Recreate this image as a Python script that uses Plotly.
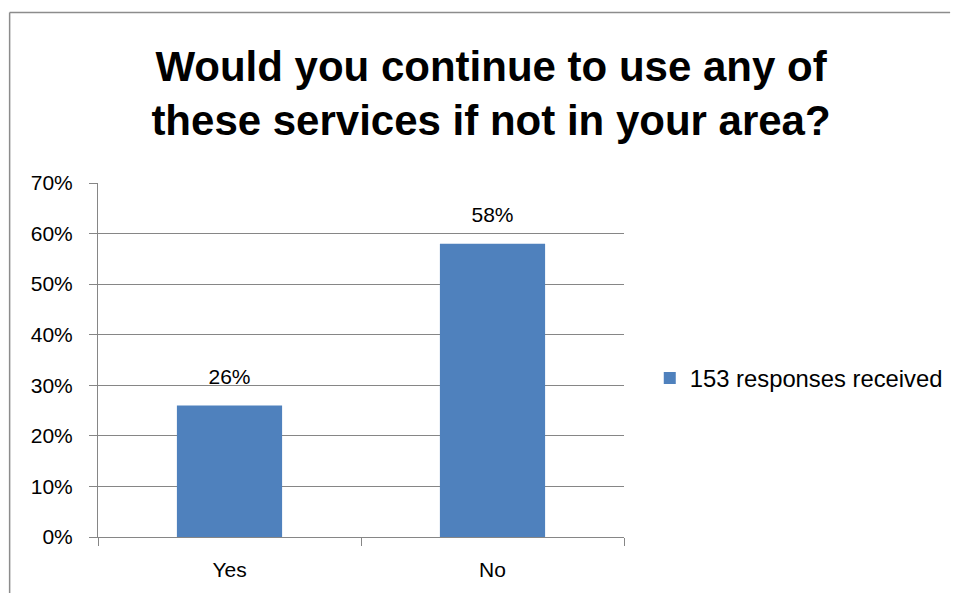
import plotly.graph_objects as go

categories = ["Yes", "No"]
values = [0.26, 0.58]
labels = ["26%", "58%"]
series_name = "153 responses received"
title_text = "Would you continue to use any of<br>these services if not in your area?"

FONT = "Liberation Sans, Arial, sans-serif"
GRID = "#868686"
BORDER = "#8c8c8c"

fig = go.Figure()
fig.add_trace(go.Bar(
    x=categories, y=values, name=series_name,
    marker=dict(color="#4F81BD", line=dict(width=0)),
    width=0.4,
    showlegend=True,
))
# data labels placed above the bar tops
fig.add_trace(go.Scatter(
    x=categories, y=values, mode="markers+text",
    text=labels, textposition="top center",
    marker=dict(size=24, color="rgba(0,0,0,0)"),
    textfont=dict(size=21, color="#000000", family=FONT),
    showlegend=False, hoverinfo="skip", cliponaxis=False,
))

fig.update_layout(
    width=951, height=585,
    margin=dict(l=90, r=334, t=175, b=56),
    paper_bgcolor="white", plot_bgcolor="white",
    font=dict(family=FONT, color="#000000"),
    title=dict(text=title_text, x=0.5079, xanchor="center", y=0.8755, yanchor="top",
               font=dict(size=42, family=FONT, color="#000000", weight="bold")),
    showlegend=True,
    legend=dict(x=1.047, y=0.449, xanchor="left", yanchor="middle",
                font=dict(size=23.8, family=FONT, color="#000000"),
                bgcolor="rgba(0,0,0,0)", itemwidth=30),
    shapes=[
        dict(type="line", xref="paper", yref="paper",
             x0=-0.168, x1=1.62, y0=1.4816, y1=1.4816,
             line=dict(color=BORDER, width=1.5), layer="below"),
        dict(type="line", xref="paper", yref="paper",
             x0=-0.168, x1=-0.168, y0=-0.3, y1=1.4816,
             line=dict(color=BORDER, width=1.5), layer="below"),
    ],
)

fig.update_yaxes(range=[0, 0.7], dtick=0.1, tickformat=".0%",
                 showgrid=True, gridcolor=GRID, gridwidth=1,
                 showline=True, linecolor=GRID, linewidth=1,
                 ticks="outside", ticklen=8, tickcolor=GRID,
                 ticklabelstandoff=12,
                 tickfont=dict(size=21, family=FONT, color="#000000"),
                 zeroline=False)
fig.update_xaxes(showline=True, linecolor=GRID, linewidth=1,
                 tickson="boundaries", ticks="outside", ticklen=8, tickcolor=GRID,
                 ticklabelstandoff=14,
                 tickfont=dict(size=21, family=FONT, color="#000000"),
                 showgrid=False)

fig.write_html("out.html")
